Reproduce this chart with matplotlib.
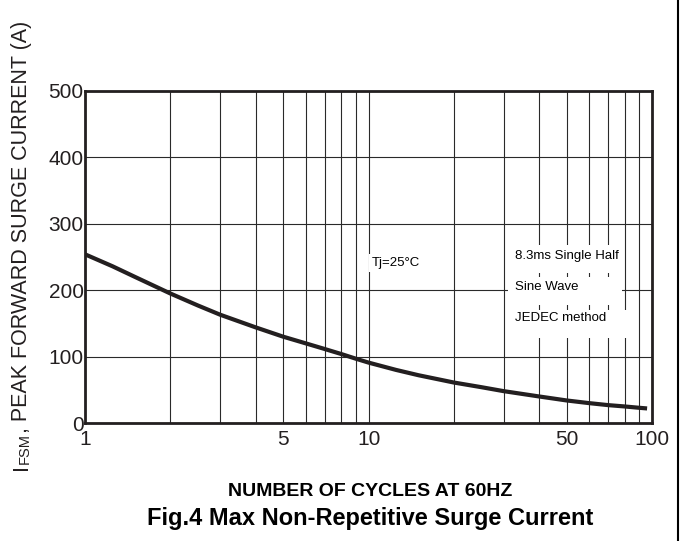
import numpy as np
import matplotlib.pyplot as plt
from matplotlib.patches import Rectangle

plt.rcParams['font.family'] = ['Liberation Sans', 'DejaVu Sans']

# data
cycles = [1, 1.25, 1.5, 2, 2.5, 3, 4, 5, 6, 7, 8, 9, 10, 12.5, 15, 20, 25, 30, 40, 50,
          60, 70, 80, 90, 96]
current = [254, 236, 220, 195, 177, 163, 144, 130, 120, 111.5, 104, 97, 91, 80, 72, 61, 54,
           48, 40, 34, 30, 27, 25, 23, 22]

x_ticks = [1, 5, 10, 50, 100]
x_minor = [2, 3, 4, 6, 7, 8, 9, 20, 30, 40, 60, 70, 80, 90]
y_ticks = [0, 100, 200, 300, 400, 500]

fig = plt.figure(figsize=(6.93, 5.41), dpi=100)
ax = fig.add_axes([0.1227, 0.218, 0.8183, 0.614])

ax.set_xscale('log')
ax.set_xlim(1, 100)
ax.set_ylim(0, 500)
ax.set_xticks(x_ticks)
ax.set_xticklabels([str(t) for t in x_ticks])
ax.set_xticks(x_minor, minor=True)
ax.set_xticklabels([], minor=True)
ax.set_yticks(y_ticks)
ax.tick_params(which='both', length=0, labelsize=15, colors='#231f20')
ax.tick_params(axis='x', pad=5)
ax.tick_params(axis='y', pad=1)

ax.grid(True, which='both', axis='x', color='#2a2a2a', lw=0.8)
ax.grid(True, which='major', axis='y', color='#2a2a2a', lw=0.8)
ax.set_axisbelow(True)
for s in ax.spines.values():
    s.set_linewidth(2)
    s.set_color('#231f20')

ax.plot(cycles, current, color='#231f20', lw=3, solid_capstyle='butt', zorder=5)

# white boxes that break the grid behind the notes
for x0, x1, y0, y1 in [(31, 77, 226, 268), (31, 78.4, 178, 220), (31, 82, 128, 170)]:
    ax.add_patch(Rectangle((x0, y0), x1 - x0, y1 - y0, fc='white', ec='none', zorder=2))

box = dict(facecolor='white', edgecolor='none', pad=2)
ax.text(10.3, 241, 'Tj=25°C', fontsize=9.5, va='center', ha='left', bbox=box, zorder=4)
ax.text(32.9, 251.5, '8.3ms Single Half', fontsize=9.5, va='center', ha='left', zorder=4)
ax.text(32.9, 205, 'Sine Wave', fontsize=9.5, va='center', ha='left', zorder=4)
ax.text(32.9, 158, 'JEDEC method', fontsize=9.5, va='center', ha='left', zorder=4)

# y label: large I, small FSM, rest normal
t1 = fig.text(0.046, 0.131, 'I', rotation=90, fontsize=15.5, ha='right', va='bottom',
              color='#231f20')
t2 = ax.annotate('FSM', xy=(1, 1), xycoords=t1, rotation=90, fontsize=10.5,
                 ha='right', va='bottom', color='#231f20')
ax.annotate(', PEAK FORWARD SURGE CURRENT (A)', xy=(1, 1), xycoords=t2, rotation=90,
            fontsize=15.5, ha='right', va='bottom', color='#231f20')

fig.text(0.534, 0.092, 'NUMBER OF CYCLES AT 60HZ', fontsize=14, fontweight='bold',
         ha='center', va='center')
fig.text(0.534, 0.041, 'Fig.4 Max Non-Repetitive Surge Current', fontsize=17,
         fontweight='bold', ha='center', va='center')

fig.add_artist(plt.Line2D([0.978, 0.978], [0, 1], color='black', lw=1.5))

fig.savefig('out.png', dpi=100)
